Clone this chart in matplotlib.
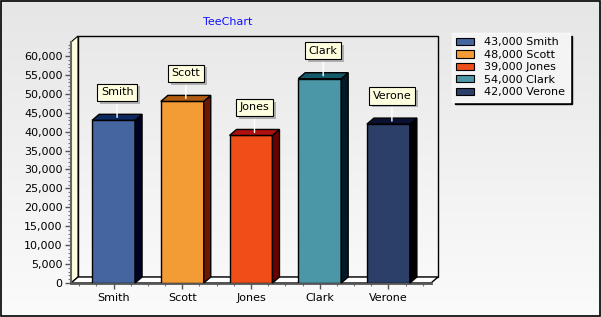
import numpy as np
import matplotlib
matplotlib.use("Agg")
import matplotlib.pyplot as plt
from matplotlib.patches import Polygon, Rectangle, Patch
from matplotlib.ticker import MultipleLocator, FuncFormatter
import matplotlib.patheffects as pe

# chart data
names = ["Smith", "Scott", "Jones", "Clark", "Verone"]
values = [43000, 48000, 39000, 54000, 42000]
front_colors = ["#4465a0", "#f39c35", "#f04e18", "#4b97a7", "#2c3f68"]
side_colors = ["#000020", "#6b1a00", "#6a0000", "#001a28", "#000000"]
top_colors = ["#0c2a60", "#b05c10", "#b01010", "#145a6a", "#0a1030"]
y_ticks = list(range(0, 60001, 5000))

W, H = 601, 317
fig = plt.figure(figsize=(W / 100, H / 100), dpi=100)

# background gradient over the whole figure
bg = fig.add_axes([0, 0, 1, 1], zorder=-10)
grad = np.linspace(0, 1, 256).reshape(-1, 1)
bg.imshow(grad, aspect="auto", cmap=matplotlib.colors.LinearSegmentedColormap.from_list(
    "bg", ["#e6e6e6", "#fbfbfb"]), extent=[0, 1, 0, 1], origin="upper")
bg.add_patch(Rectangle((0.001, 0.002), 0.997, 0.995, fill=False, ec="black", lw=1.2,
                       transform=bg.transAxes))
bg.set_xlim(0, 1)
bg.set_ylim(0, 1)
bg.axis("off")

# front plane of the 3d chart, in pixels
left, right, bottom, top = 71, 431, 283, 42
ax = fig.add_axes([left / W, (H - bottom) / H, (right - left) / W, (bottom - top) / H])
xmin, xmax = -0.62, len(names) - 1 + 0.62
ymax = 63700
ax.set_xlim(xmin, xmax)
ax.set_ylim(0, ymax)
ax.patch.set_visible(False)

# depth of the 3d effect (7 px right, 6 px up) in data units
dx = 7 / ((right - left) / (xmax - xmin))
dy = 6 / ((bottom - top) / ymax)

# back wall with a soft gradient
wall_cmap = matplotlib.colors.LinearSegmentedColormap.from_list("wall", ["#e9e9e9", "#f9f9f9"])
ax.imshow(grad, aspect="auto", cmap=wall_cmap, extent=[xmin + dx, xmax + dx, dy, ymax + dy],
          origin="upper", zorder=0, clip_on=False)
ax.add_patch(Rectangle((xmin + dx, dy), xmax - xmin, ymax, fill=False, ec="black", lw=1,
                       zorder=1, clip_on=False))
# left wall
ax.add_patch(Polygon([(xmin, 0), (xmin + dx, dy), (xmin + dx, ymax + dy), (xmin, ymax)],
                     closed=True, fc="#fffce0", ec="black", lw=0.8, zorder=1, clip_on=False))
# floor
ax.add_patch(Polygon([(xmin, 0), (xmax, 0), (xmax + dx, dy), (xmin + dx, dy)],
                     closed=True, fc="white", ec="black", lw=1, zorder=1, clip_on=False))
ax.set_xlim(xmin, xmax)
ax.set_ylim(0, ymax)

# bars: front faces, then side and top faces
x = np.arange(len(names))
bw = 0.625
ax.bar(x, values, width=bw, color=front_colors, edgecolor="black", linewidth=1, zorder=3)
for xi, v, sc, tc in zip(x, values, side_colors, top_colors):
    r = xi + bw / 2
    l = xi - bw / 2
    ax.add_patch(Polygon([(r, 0), (r + dx, dy), (r + dx, v + dy), (r, v)], closed=True,
                         fc=sc, ec="black", lw=1, zorder=3, clip_on=False))
    ax.add_patch(Polygon([(l, v), (r, v), (r + dx, v + dy), (l + dx, v + dy)], closed=True,
                         fc=tc, ec="black", lw=1, zorder=3, clip_on=False))

# marks above the bars
for xi, v, name in zip(x, values, names):
    cx = xi + dx / 2
    cy = v + dy / 2
    t = ax.annotate(name, xy=(cx, cy), xytext=(0, 14.5), textcoords="offset points",
                    ha="center", va="bottom", fontsize=8, zorder=6,
                    bbox=dict(boxstyle="square,pad=0.32", fc="#ffffe0", ec="black", lw=0.8),
                    arrowprops=dict(arrowstyle="-", color="white", lw=1, shrinkA=0, shrinkB=0))
    t.get_bbox_patch().set_path_effects([
        pe.SimplePatchShadow(offset=(2, -2), shadow_rgbFace="#888888", alpha=0.6), pe.Normal()])

# axes styling
for s in ["top", "right"]:
    ax.spines[s].set_visible(False)
ax.spines["left"].set_color("#666666")
ax.spines["left"].set_linewidth(1.5)
ax.spines["bottom"].set_color("#555555")
ax.spines["bottom"].set_linewidth(2)
ax.spines["left"].set_zorder(2)
ax.spines["bottom"].set_zorder(2)

ax.set_yticks(y_ticks)
ax.yaxis.set_major_formatter(FuncFormatter(lambda v, p: f"{int(v):,}"))
ax.yaxis.set_minor_locator(MultipleLocator(1000))
ax.set_xticks(x)
ax.set_xticklabels(names)
ax.xaxis.set_minor_locator(MultipleLocator(0.25))
ax.tick_params(axis="both", which="major", labelsize=8, length=4, width=1, color="#555555",
               direction="out", pad=2)
ax.tick_params(axis="both", which="minor", length=2, width=0.8, color="#777777")
ax.tick_params(axis="x", which="major", pad=3.5)

# title
fig.text(228 / W, 1 - 22 / H, "TeeChart", color="#1010ff", fontsize=8, ha="center", va="center")

# legend
handles = [Patch(fc=c, ec="black", lw=0.8) for c in front_colors]
labels = [f"{v:,} {n}" for v, n in zip(values, names)]
leg = fig.legend(handles, labels, loc="upper left", bbox_to_anchor=(452 / W, 1 - 33 / H),
                 fontsize=8, frameon=True, fancybox=False, shadow={"color": "black", "alpha": 1},
                 handlelength=1.6, handleheight=0.6, handletextpad=0.9, labelspacing=0.22,
                 borderpad=0.4, borderaxespad=0)
leg.get_frame().set_facecolor("#f4f4f4")
leg.get_frame().set_edgecolor("#f8f8f8")
leg.get_frame().set_alpha(1)

fig.savefig("out.png", dpi=100)
